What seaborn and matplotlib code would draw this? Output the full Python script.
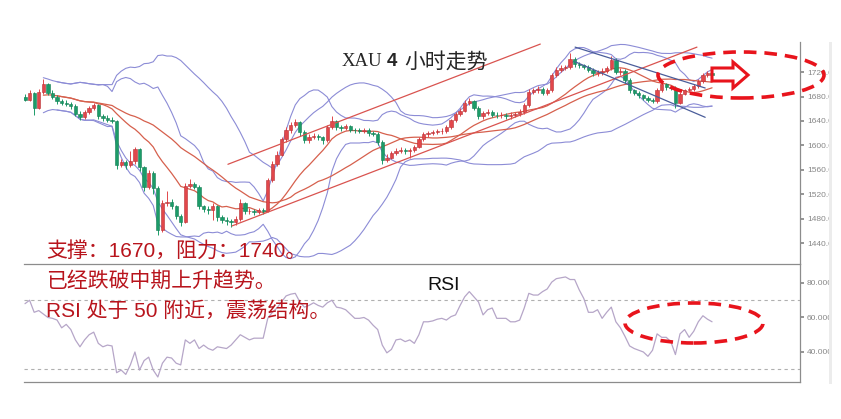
#!/usr/bin/env python3
# XAU 4h chart with bollinger bands and RSI panel

import numpy as np
import pandas as pd
import seaborn as sns
import matplotlib.pyplot as plt
from matplotlib.patches import Ellipse, Polygon, Rectangle

sns.set_theme(style="white")
plt.rcParams['font.family'] = ['Liberation Sans', 'Noto Sans CJK SC', 'DejaVu Sans']

W, H = 841, 419

opens = [1680, 1675, 1686, 1662, 1688, 1700, 1686, 1680, 1672, 1670,
         1668, 1665, 1652, 1646, 1655, 1662, 1666, 1648, 1645, 1642,
         1640, 1568, 1572, 1568, 1574, 1594, 1564, 1532, 1555, 1530,
         1462, 1505, 1508, 1500, 1485, 1475, 1533, 1536, 1532, 1500,
         1496, 1494, 1500, 1482, 1478, 1476, 1474, 1480, 1505, 1492,
         1493, 1490, 1494, 1492, 1543, 1570, 1585, 1610, 1626, 1634,
         1638, 1622, 1609, 1614, 1616, 1613, 1608, 1630, 1640, 1630,
         1628, 1631, 1626, 1625, 1624, 1625, 1620, 1619, 1605, 1576,
         1580, 1587, 1591, 1593, 1591, 1592, 1598, 1611, 1618, 1620,
         1622, 1623, 1624, 1630, 1641, 1651, 1657, 1670, 1672, 1662,
         1648, 1653, 1655, 1650, 1649, 1650, 1648, 1650, 1651, 1655,
         1666, 1688, 1690, 1692, 1686, 1690, 1715, 1724, 1727, 1728,
         1742, 1733, 1731, 1729, 1724, 1718, 1720, 1722, 1726, 1740,
         1721, 1722, 1707, 1690, 1686, 1682, 1678, 1675, 1673, 1690,
         1700, 1695, 1694, 1670, 1685, 1690, 1692, 1697, 1705, 1715,
         1718]
closes = [1675, 1686, 1662, 1688, 1700, 1686, 1680, 1672, 1670, 1668,
          1665, 1652, 1646, 1655, 1662, 1666, 1648, 1645, 1642, 1640,
          1568, 1572, 1568, 1574, 1594, 1564, 1532, 1555, 1530, 1462,
          1505, 1508, 1500, 1485, 1475, 1533, 1536, 1532, 1500, 1496,
          1494, 1500, 1482, 1478, 1476, 1474, 1480, 1505, 1492, 1493,
          1490, 1494, 1492, 1543, 1570, 1585, 1610, 1626, 1634, 1638,
          1622, 1609, 1614, 1616, 1613, 1608, 1630, 1640, 1630, 1628,
          1631, 1626, 1625, 1624, 1625, 1620, 1619, 1605, 1576, 1580,
          1587, 1591, 1593, 1591, 1592, 1598, 1611, 1618, 1620, 1622,
          1623, 1624, 1630, 1641, 1651, 1657, 1670, 1672, 1662, 1648,
          1653, 1655, 1650, 1649, 1650, 1648, 1650, 1651, 1655, 1666,
          1688, 1690, 1692, 1686, 1690, 1715, 1724, 1727, 1728, 1742,
          1733, 1731, 1729, 1724, 1718, 1720, 1722, 1726, 1740, 1721,
          1722, 1707, 1690, 1686, 1682, 1678, 1675, 1673, 1690, 1700,
          1695, 1694, 1670, 1685, 1690, 1692, 1697, 1705, 1715, 1718,
          1716]
highs = [1684, 1690, 1688, 1692, 1708, 1702, 1690, 1683, 1676, 1674,
         1671, 1668, 1656, 1658, 1665, 1670, 1668, 1652, 1649, 1646,
         1642, 1578, 1576, 1590, 1598, 1596, 1566, 1560, 1558, 1534,
         1510, 1525, 1512, 1503, 1488, 1538, 1545, 1540, 1535, 1503,
         1500, 1505, 1503, 1486, 1482, 1480, 1484, 1512, 1508, 1498,
         1496, 1497, 1497, 1546, 1574, 1590, 1614, 1630, 1638, 1643,
         1640, 1625, 1618, 1620, 1619, 1616, 1634, 1648, 1642, 1633,
         1635, 1634, 1629, 1628, 1628, 1628, 1624, 1622, 1608, 1586,
         1591, 1595, 1597, 1596, 1596, 1601, 1614, 1622, 1624, 1626,
         1627, 1628, 1633, 1644, 1655, 1661, 1674, 1678, 1675, 1665,
         1657, 1659, 1658, 1654, 1654, 1653, 1654, 1655, 1659, 1669,
         1692, 1694, 1697, 1695, 1694, 1718, 1728, 1731, 1732, 1752,
         1745, 1737, 1734, 1732, 1727, 1724, 1726, 1730, 1746, 1743,
         1726, 1725, 1710, 1693, 1689, 1685, 1681, 1678, 1694, 1704,
         1702, 1698, 1697, 1688, 1693, 1696, 1701, 1709, 1719, 1722,
         1721]
lows = [1672, 1672, 1650, 1660, 1685, 1682, 1676, 1668, 1666, 1664,
        1660, 1648, 1642, 1643, 1652, 1658, 1644, 1640, 1638, 1636,
        1562, 1564, 1562, 1565, 1570, 1558, 1525, 1528, 1520, 1453,
        1458, 1500, 1495, 1480, 1468, 1472, 1530, 1528, 1496, 1490,
        1488, 1478, 1476, 1472, 1470, 1466, 1470, 1476, 1488, 1488,
        1486, 1487, 1488, 1490, 1540, 1566, 1582, 1606, 1620, 1630,
        1616, 1604, 1604, 1610, 1608, 1603, 1605, 1627, 1626, 1624,
        1625, 1622, 1621, 1620, 1620, 1616, 1615, 1601, 1570, 1572,
        1577, 1584, 1587, 1586, 1580, 1589, 1595, 1607, 1614, 1617,
        1618, 1619, 1620, 1627, 1638, 1648, 1654, 1666, 1658, 1644,
        1644, 1649, 1646, 1645, 1645, 1644, 1644, 1646, 1648, 1652,
        1663, 1684, 1686, 1682, 1682, 1687, 1712, 1720, 1723, 1725,
        1729, 1727, 1725, 1720, 1714, 1714, 1716, 1718, 1723, 1717,
        1716, 1703, 1686, 1682, 1678, 1674, 1671, 1669, 1670, 1687,
        1691, 1690, 1662, 1667, 1682, 1687, 1689, 1694, 1702, 1712,
        1712]
rsi = [68, 70, 63, 64, 62, 60, 59.5, 58.5, 54, 56,
       53, 47, 43, 47, 50, 51.5, 45, 43, 44, 43.5,
       28, 29.5, 27, 32.5, 40, 29.5, 35, 37, 29.5, 25.5,
       33.5, 37, 36.5, 33.5, 32.5, 47, 45, 47, 42, 44,
       42, 41, 43, 42.5, 42, 44, 47, 50, 48.5, 47,
       48, 48, 48, 59.5, 63, 65.5, 69, 72.5, 73.5, 74,
       69, 66, 67, 68.5, 67, 66, 68.5, 70, 66, 65.5,
       64.5, 62, 59.5, 59.5, 60, 58.5, 55.5, 53, 44, 39.5,
       41.5, 47, 47.5, 46, 47, 45, 50, 57.5, 57.5, 58,
       59, 59.5, 58.5, 60.5, 61.5, 67, 72, 75, 72, 69,
       61.5, 64.5, 65.5, 59.5, 59.5, 59.5, 57.5, 57.5, 58.5, 65.5,
       74, 73, 73, 75, 76.5, 80.5, 82.5, 83, 83.5, 82,
       82, 76, 71, 63, 63, 64.5, 59.5, 63, 66, 57.5,
       54, 49, 43.5, 42, 41, 40, 37.5, 41, 50.5, 48.5,
       48.5, 46, 38.5, 50.5, 53, 48.5, 52, 57.5, 61, 59,
       57.5]

price_ticks = [1440, 1480, 1520, 1560, 1600, 1640, 1680, 1720]
rsi_ticks = [40, 60, 80]

# trend lines as (candle, price) pairs
up_channel_top = ([44.3, 112.5], [1569, 1766])
up_channel_bot = ([45.2, 146.7], [1468, 1761])
down_channel_top = ([120.1, 148.5], [1761, 1694])
down_channel_bot = ([120.1, 148.5], [1737, 1646])

RED = '#e2474b'
GREEN = '#1c9c69'
BAND = '#8c8cd6'
MA = '#d6604d'
TXT_RED = '#b8141c'


def px(x, y):
    return x / W, 1 - y / H


fig = plt.figure(figsize=(W / 100, H / 100), dpi=100)
ax = fig.add_axes([24 / W, 1 - 264 / H, 776 / W, 222 / H])
ax_rsi = fig.add_axes([24 / W, 1 - 382 / H, 776 / W, 118 / H])

idx = np.arange(len(closes))
df = pd.DataFrame({'i': idx, 'o': opens, 'h': highs, 'l': lows, 'c': closes, 'rsi': rsi})

# bollinger bands and moving averages
for n, mp in [(15, 5), (30, 8)]:
    roll = df['c'].rolling(n, min_periods=mp)
    mid = roll.mean()
    sd = roll.std()
    sns.lineplot(x=df['i'], y=mid + 2 * sd, ax=ax, color=BAND, lw=0.8)
    sns.lineplot(x=df['i'], y=mid - 2 * sd, ax=ax, color=BAND, lw=0.8)
    sns.lineplot(x=df['i'], y=mid, ax=ax, color=MA, lw=0.9)

# candles
up = df['c'] >= df['o']
cols = np.where(up, RED, GREEN)
edges = np.where(up, '#b83236', '#167d55')
ax.vlines(df['i'], df['l'], df['h'], colors=cols, lw=0.7, zorder=3)
body = np.maximum((df['c'] - df['o']).abs(), 0.8)
ax.bar(df['i'], body, bottom=np.minimum(df['o'], df['c']), width=0.72,
       color=cols, edgecolor=edges, lw=0.4, zorder=4)

for xs, ys in [up_channel_top, up_channel_bot]:
    ax.plot(xs, ys, color='#d9534f', lw=0.9, zorder=5)
for xs, ys in [down_channel_top, down_channel_bot]:
    ax.plot(xs, ys, color='#4a5d9a', lw=0.9, zorder=5)

xlim = (-0.22, 169.2)
ax.set_xlim(*xlim)
ax.set_ylim(1405.6, 1769.4)
ax.set_yticks(price_ticks)
ax.set_yticklabels(['%.2f' % t for t in price_ticks])

# RSI panel
ax_rsi.axhline(70, color='#b0b0b0', lw=0.8, ls=(0, (3, 3)))
ax_rsi.axhline(30, color='#b0b0b0', lw=0.8, ls=(0, (3, 3)))
sns.lineplot(x=df['i'], y=df['rsi'], ax=ax_rsi, color='#b6a6c8', lw=0.9)
ax_rsi.set_xlim(*xlim)
ax_rsi.set_ylim(22.6, 91.0)
ax_rsi.set_yticks(rsi_ticks)
ax_rsi.set_yticklabels(['%.4f' % t for t in rsi_ticks])

for a in (ax, ax_rsi):
    a.set_xticks([])
    a.set_xlabel('')
    a.set_ylabel('')
    a.yaxis.tick_right()
    a.tick_params(axis='y', labelsize=6, colors='#888888', length=3, pad=2,
                  right=True, labelcolor='#888888')
    for s in ('left', 'top'):
        a.spines[s].set_visible(False)
    for s in ('right', 'bottom'):
        a.spines[s].set_color('#8c8c8c')
        a.spines[s].set_linewidth(0.9)
    a.patch.set_alpha(0)

# titles and notes
fig.text(*px(342, 62), 'XAU', family=['Liberation Serif'], fontsize=13.5, va='center')
fig.text(*px(387, 62), '4', fontweight='bold', fontsize=13.5, va='center')
fig.text(*px(404, 62), '小时走势', family=['Noto Sans CJK SC'], fontsize=15, va='center')
fig.text(*px(427, 285), 'RSI', fontsize=14, va='center', color='#111111')

notes = ['支撑：1670，阻力：1740。', '已经跌破中期上升趋势。', 'RSI 处于 50 附近，震荡结构。']
for k, line in enumerate(notes):
    fig.text(*px(46, [251, 281, 311][k]), line, fontsize=15, color=TXT_RED, va='center')

# red dashed ellipses and hollow arrow
for cx, cy, w, h in [(741, 75, 166, 46), (694, 323, 138, 40)]:
    fig.add_artist(Ellipse(px(cx, cy), w / W, h / H, transform=fig.transFigure,
                           fill=False, ec='#e8141c', lw=2.6, ls=(0, (3.5, 2.2))))
arrow = [(712, 68), (733, 68), (733, 62), (748, 75), (733, 88), (733, 81), (712, 81)]
fig.add_artist(Polygon([px(x, y) for x, y in arrow], closed=True, transform=fig.transFigure,
                       fill=False, ec='#e8141c', lw=2.2))

# right edge strip that clips the tick labels
fig.add_artist(Rectangle(px(829, H), 12 / W, 1, transform=fig.transFigure,
                         fc='white', ec='none', zorder=10))
fig.add_artist(Rectangle(px(829, 384), 3 / W, 342 / H, transform=fig.transFigure,
                         fc='#ececec', ec='none', zorder=11))

fig.savefig('out.png', dpi=100)
